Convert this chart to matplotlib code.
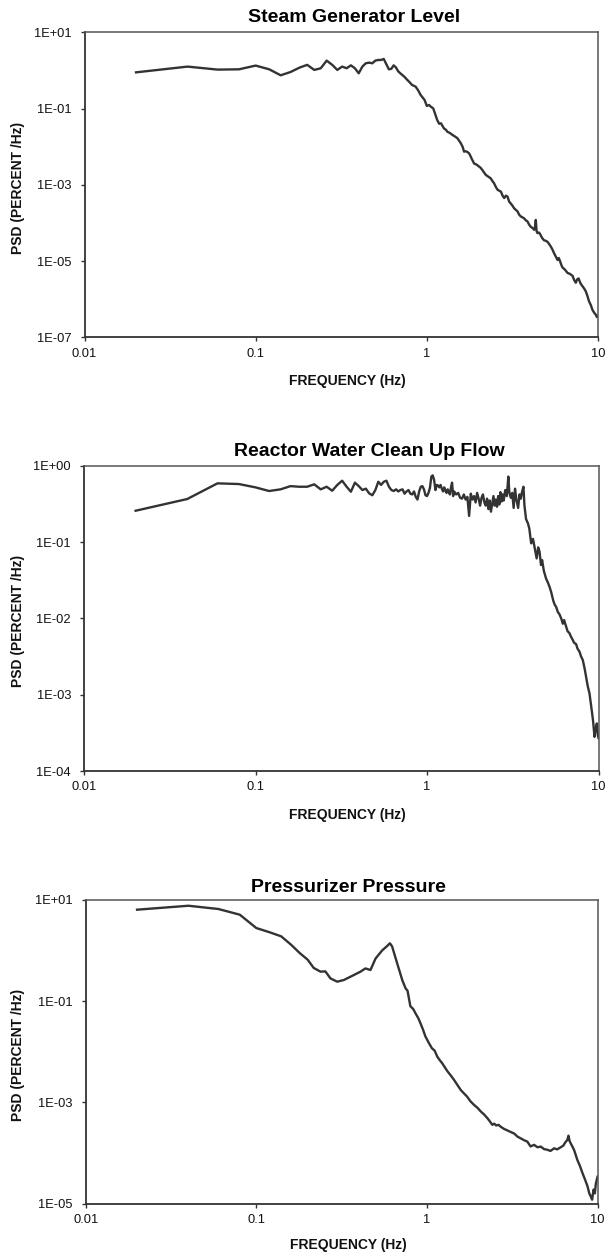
import matplotlib
matplotlib.use("Agg")
import matplotlib.pyplot as plt
from matplotlib.ticker import FixedLocator, NullLocator

plt.rcParams['font.family'] = ['Liberation Sans', 'DejaVu Sans']

# ---------------- data ----------------
titles = ["Steam Generator Level", "Reactor Water Clean Up Flow", "Pressurizer Pressure"]
x_label = "FREQUENCY (Hz)"
y_label = "PSD (PERCENT /Hz)"
x_ticks = [0.01, 0.1, 1, 10]
x_tick_labels = ["0.01", "0.1", "1", "10"]

y_ticks_1 = [1e1, 1e-1, 1e-3, 1e-5, 1e-7]
y_tick_labels_1 = ["1E+01", "1E-01", "1E-03", "1E-05", "1E-07"]
y_ticks_2 = [1e0, 1e-1, 1e-2, 1e-3, 1e-4]
y_tick_labels_2 = ["1E+00", "1E-01", "1E-02", "1E-03", "1E-04"]
y_ticks_3 = [1e1, 1e-1, 1e-3, 1e-5]
y_tick_labels_3 = ["1E+01", "1E-01", "1E-03", "1E-05"]

# Steam Generator Level
freq_1 = [0.02, 0.04, 0.06, 0.08, 0.10, 0.12, 0.14, 0.16, 0.18, 0.20, 0.22, 0.24,
          0.26, 0.28, 0.30, 0.32, 0.34, 0.36, 0.38, 0.40, 0.42, 0.44, 0.46, 0.48,
          0.50, 0.52, 0.54, 0.56, 0.58, 0.60, 0.62, 0.64, 0.66, 0.68, 0.70, 0.74,
          0.77, 0.80, 0.82, 0.86, 0.89, 0.92, 0.97, 1.00, 1.03, 1.06, 1.09, 1.12,
          1.15, 1.18, 1.21, 1.26, 1.29, 1.32, 1.36, 1.41, 1.46, 1.51, 1.55, 1.58,
          1.62, 1.65, 1.69, 1.73, 1.77, 1.83, 1.89, 1.95, 2.02, 2.06, 2.11, 2.16,
          2.21, 2.28, 2.36, 2.41, 2.47, 2.53, 2.59, 2.65, 2.71, 2.77, 2.83, 2.90,
          2.96, 3.03, 3.10, 3.17, 3.24, 3.31, 3.39, 3.46, 3.54, 3.62, 3.70, 3.78,
          3.87, 3.96, 4.05, 4.14, 4.24, 4.29, 4.33, 4.38, 4.43, 4.52, 4.60, 4.72,
          4.84, 4.95, 5.07, 5.18, 5.30, 5.42, 5.54, 5.67, 5.80, 5.90, 6.00, 6.10,
          6.20, 6.40, 6.63, 6.85, 7.10, 7.25, 7.42, 7.55, 7.70, 7.90, 8.11, 8.30,
          8.49, 8.68, 8.87, 9.08, 9.29, 9.50, 9.71, 9.85, 10.0]
psd_1 = [0.89, 1.26, 1.05, 1.07, 1.34, 1.07, 0.745, 0.91, 1.18, 1.40, 1.03, 1.14,
         1.81, 1.40, 1.03, 1.26, 1.14, 1.36, 1.14, 0.84, 1.26, 1.54, 1.60, 1.54,
         1.81, 1.88, 1.88, 2.00, 1.45, 1.07, 1.10, 1.36, 1.20, 0.95, 0.84, 0.68,
         0.56, 0.47, 0.415, 0.376, 0.30, 0.227, 0.168, 0.117, 0.124, 0.11, 0.101, 0.07,
         0.050, 0.040, 0.041, 0.030, 0.028, 0.0245, 0.023, 0.0204, 0.0185, 0.0166, 0.0140, 0.0123,
         0.0098, 0.0074, 0.0076, 0.0072, 0.0066, 0.0048, 0.0036, 0.0034, 0.0030, 0.0028, 0.00245, 0.0021,
         0.00182, 0.00165, 0.00148, 0.00128, 0.0011, 0.00088, 0.00074, 0.00070, 0.00066, 0.00052, 0.00045, 0.00052,
         0.00049, 0.00036, 0.00032, 0.00028, 0.00024, 0.00022, 0.00020, 0.000165, 0.000148, 0.000140, 0.000132, 0.000118,
         0.000110, 9.0e-5, 7.9e-5, 7.4e-5, 6.6e-5, 8.0e-5, 1.2e-4, 6.0e-5, 5.4e-5, 5.6e-5, 5.0e-5, 4.0e-5,
         3.5e-5, 3.4e-5, 3.2e-5, 2.8e-5, 2.4e-5, 2.0e-5, 1.6e-5, 1.3e-5, 1.07e-5, 1.2e-5, 1.0e-5, 8.0e-6,
         6.8e-6, 6.0e-6, 4.9e-6, 4.6e-6, 4.1e-6, 3.2e-6, 2.7e-6, 3.3e-6, 3.5e-6, 2.6e-6, 2.2e-6, 1.9e-6,
         1.6e-6, 1.2e-6, 8.7e-7, 7.0e-7, 5.2e-7, 4.4e-7, 3.9e-7, 3.4e-7, 3.6e-7]

# Reactor Water Clean Up Flow
freq_2 = [0.02, 0.04, 0.06, 0.08, 0.10, 0.12, 0.14, 0.16, 0.18, 0.20, 0.22, 0.24,
          0.26, 0.28, 0.30, 0.32, 0.34, 0.36, 0.38, 0.40, 0.42, 0.44, 0.46, 0.48,
          0.50, 0.52, 0.54, 0.56, 0.58, 0.60, 0.62, 0.64, 0.66, 0.68, 0.70, 0.72,
          0.74, 0.76, 0.78, 0.80, 0.82, 0.84, 0.86, 0.88, 0.90, 0.92, 0.94, 0.96,
          0.98, 1.00, 1.02, 1.04, 1.06, 1.08, 1.10, 1.12, 1.14, 1.16, 1.18, 1.20,
          1.22, 1.24, 1.26, 1.28, 1.30, 1.32, 1.34, 1.36, 1.38, 1.40, 1.42, 1.44,
          1.48, 1.52, 1.56, 1.60, 1.64, 1.68, 1.72, 1.76, 1.78, 1.80, 1.84, 1.88,
          1.92, 1.96, 2.00, 2.04, 2.08, 2.12, 2.16, 2.20, 2.24, 2.28, 2.32, 2.36,
          2.40, 2.44, 2.48, 2.52, 2.56, 2.60, 2.64, 2.68, 2.72, 2.76, 2.80, 2.86,
          2.92, 2.98, 3.02, 3.08, 3.14, 3.20, 3.26, 3.32, 3.40, 3.46, 3.52, 3.58,
          3.65, 3.70, 3.78, 3.88, 3.95, 4.05, 4.15, 4.23, 4.30, 4.36, 4.45, 4.53,
          4.62, 4.69, 4.80, 4.95, 5.05, 5.18, 5.30, 5.45, 5.56, 5.66, 5.80, 5.90,
          6.06, 6.20, 6.30, 6.48, 6.60, 6.77, 6.90, 7.08, 7.20, 7.40, 7.55, 7.75,
          7.90, 8.10, 8.30, 8.47, 8.65, 8.86, 9.00, 9.18, 9.30, 9.48, 9.60, 9.78,
          9.90, 10.0]
psd_2 = [0.257, 0.366, 0.587, 0.575, 0.52, 0.466, 0.49, 0.54, 0.53, 0.53, 0.57, 0.49,
         0.53, 0.47, 0.56, 0.636, 0.53, 0.456, 0.60, 0.54, 0.48, 0.50, 0.434, 0.41,
         0.48, 0.616, 0.56, 0.616, 0.636, 0.53, 0.48, 0.466, 0.49, 0.46, 0.48, 0.49,
         0.43, 0.46, 0.48, 0.43, 0.42, 0.46, 0.39, 0.36, 0.46, 0.53, 0.54, 0.49,
         0.41, 0.40, 0.44, 0.51, 0.72, 0.747, 0.65, 0.48, 0.56, 0.55, 0.52, 0.56,
         0.50, 0.46, 0.52, 0.47, 0.44, 0.49, 0.45, 0.42, 0.52, 0.60, 0.40, 0.46,
         0.42, 0.44, 0.38, 0.37, 0.42, 0.36, 0.39, 0.22, 0.31, 0.43, 0.36, 0.40,
         0.33, 0.44, 0.37, 0.30, 0.38, 0.42, 0.33, 0.30, 0.37, 0.27, 0.35, 0.25,
         0.32, 0.40, 0.30, 0.36, 0.29, 0.40, 0.31, 0.45, 0.34, 0.42, 0.35, 0.48,
         0.40, 0.72, 0.45, 0.38, 0.44, 0.28, 0.50, 0.36, 0.28, 0.42, 0.37, 0.45,
         0.53, 0.30, 0.20, 0.175, 0.15, 0.096, 0.11, 0.087, 0.070, 0.061, 0.085, 0.075,
         0.050, 0.058, 0.042, 0.033, 0.030, 0.026, 0.022, 0.017, 0.015, 0.0142, 0.012, 0.0115,
         0.0100, 0.0085, 0.0095, 0.0078, 0.0068, 0.0064, 0.0058, 0.0052, 0.0048, 0.0046, 0.0040, 0.00366,
         0.0032, 0.00284, 0.0022, 0.0017, 0.0013, 0.00104, 0.0008, 0.00057, 0.00045, 0.00028, 0.00035, 0.00042,
         0.00030, 0.00027]

# Pressurizer Pressure
freq_3 = [0.02, 0.04, 0.06, 0.08, 0.10, 0.12, 0.14, 0.16, 0.18, 0.20, 0.217, 0.238,
          0.254, 0.272, 0.298, 0.326, 0.373, 0.408, 0.436, 0.467, 0.50, 0.547, 0.585, 0.607,
          0.625, 0.67, 0.717, 0.75, 0.77, 0.80, 0.83, 0.858, 0.89, 0.918, 0.95, 0.98,
          1.03, 1.07, 1.11, 1.15, 1.19, 1.23, 1.28, 1.32, 1.38, 1.44, 1.51, 1.58,
          1.65, 1.72, 1.80, 1.89, 1.98, 2.07, 2.16, 2.26, 2.34, 2.42, 2.48, 2.55,
          2.63, 2.71, 2.83, 2.96, 3.10, 3.24, 3.40, 3.55, 3.70, 3.88, 4.05, 4.25,
          4.45, 4.65, 4.85, 5.08, 5.30, 5.57, 5.80, 6.09, 6.30, 6.52, 6.65, 6.76,
          6.87, 6.97, 7.29, 7.63, 7.90, 8.17, 8.45, 8.74, 8.95, 9.14, 9.30, 9.48,
          9.65, 9.78, 10.0]
psd_3 = [6.35, 7.6, 6.55, 5.06, 2.76, 2.27, 1.89, 1.29, 0.88, 0.655, 0.45, 0.38,
         0.385, 0.28, 0.241, 0.26, 0.326, 0.38, 0.44, 0.41, 0.69, 1.0, 1.22, 1.38,
         1.2, 0.55, 0.26, 0.178, 0.16, 0.079, 0.070, 0.057, 0.046, 0.036, 0.027, 0.020,
         0.0146, 0.0117, 0.0105, 0.0080, 0.0068, 0.0059, 0.0048, 0.0041, 0.0034, 0.0028, 0.0022, 0.00175,
         0.0015, 0.0013, 0.00105, 0.00089, 0.00078, 0.00066, 0.00058, 0.00049, 0.00042, 0.00036, 0.00038, 0.00035,
         0.00036, 0.00033, 0.00030, 0.00028, 0.00026, 0.000244, 0.00021, 0.000195, 0.00018, 0.000168, 0.000135, 0.000145,
         0.000130, 0.000134, 0.000120, 0.000116, 0.000110, 0.000124, 0.000118, 0.000130, 0.000140, 0.000168, 0.000180, 0.00022,
         0.000170, 0.000155, 0.000115, 7.2e-5, 5.5e-5, 4.0e-5, 3.0e-5, 2.2e-5, 1.6e-5, 1.38e-5, 1.2e-5, 1.9e-5,
         1.6e-5, 2.5e-5, 3.4e-5]

series = [(freq_1, psd_1, (1e-7, 1e1), y_ticks_1, y_tick_labels_1),
          (freq_2, psd_2, (1e-4, 1e0), y_ticks_2, y_tick_labels_2),
          (freq_3, psd_3, (1e-5, 1e1), y_ticks_3, y_tick_labels_3)]

# ---------------- layout ----------------
W, H = 606, 1255
fig = plt.figure(figsize=(W / 100, H / 100), dpi=100)

# pixel boxes: left, right, top, bottom
boxes = [(84.5, 598, 32.3, 337.3), (84.0, 598.5, 465.7, 771.0), (85.7, 597.5, 899.7, 1203.7)]
title_pos = [(354.5, 17.5), (369, 452), (348.5, 888)]
xlabel_pos = [(347, 381), (347, 815), (348, 1245)]

line_col = "#333333"
for i, (fr, ps, ylim, yt, ytl) in enumerate(series):
    l, r, t, b = boxes[i]
    ax = fig.add_axes([l / W, 1 - b / H, (r - l) / W, (b - t) / H])
    ax.plot(fr, ps, color=line_col, lw=1.7, solid_joinstyle='round')
    ax.set_xscale('log')
    ax.set_yscale('log')
    ax.set_xlim(0.01, 10)
    ax.set_ylim(*ylim)
    ax.xaxis.set_major_locator(FixedLocator(x_ticks))
    ax.set_xticklabels(x_tick_labels)
    ax.xaxis.set_minor_locator(NullLocator())
    ax.yaxis.set_major_locator(FixedLocator(yt))
    ax.set_yticklabels(ytl)
    ax.yaxis.set_minor_locator(NullLocator())
    ax.tick_params(axis='both', direction='out', length=3.0, width=1.0, color='#333333',
                   labelsize=9.3, labelcolor='#111111')
    ax.tick_params(axis='y', pad=6.3)
    ax.tick_params(axis='x', pad=4.5)
    for side in ['left', 'bottom']:
        ax.spines[side].set_color('#333333')
        ax.spines[side].set_linewidth(1.3)
    for side in ['top', 'right']:
        ax.spines[side].set_color('#555555')
        ax.spines[side].set_linewidth(1.1)

    tx, ty = title_pos[i]
    fig.text(tx / W, 1 - ty / H, titles[i], ha='center', va='center',
             fontsize=14, fontweight='bold', color='#000000')
    lx, ly = xlabel_pos[i]
    fig.text(lx / W, 1 - ly / H, x_label, ha='center', va='center',
             fontsize=10, fontweight='bold', color='#111111')
    fig.text(17.7 / W, 1 - ((t + b) / 2 + 3) / H, y_label, ha='center', va='center',
             rotation=90, fontsize=10, fontweight='bold', color='#111111')

fig.savefig("out.png", dpi=100)
